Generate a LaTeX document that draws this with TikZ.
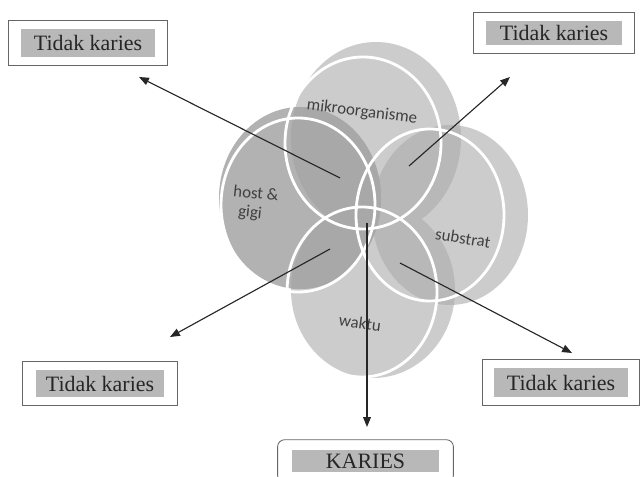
\documentclass[tikz,border=0pt]{standalone}
\usepackage{fontspec}
\setmainfont{Liberation Serif}
\newfontfamily\labelfont{Carlito}
\usetikzlibrary{arrows.meta, fit, positioning}
\definecolor{bodygray}{gray}{0.80}
\definecolor{hostgray}{gray}{0.70}
\definecolor{overgray}{gray}{0.72}
\definecolor{hostover}{gray}{0.66}
\definecolor{boxgray}{gray}{0.72}
\definecolor{framegray}{gray}{0.40}
\newcommand{\boxfont}{\fontsize{15.6}{18}\selectfont}
\newcommand{\bodytop}{(376,138) ellipse [x radius=85, y radius=96]}
\newcommand{\bodyleft}{(300,198) ellipse [x radius=81, y radius=91]}
\newcommand{\bodyright}{(450,215) ellipse [x radius=78, y radius=90]}
\newcommand{\bodybottom}{(373,290) ellipse [x radius=82, y radius=88]}

\begin{document}
\begin{tikzpicture}[x=0.025cm, y=-0.025cm,
	lbl/.style={fill=boxgray, inner sep=0pt, minimum height=0.7cm, text=black!85, font=\boxfont},
	boxframe/.style={draw=framegray, line width=0.6pt, inner xsep=0.3cm, inner ysep=0.2cm},
	ring/.style={draw=white, line width=2pt},
	arr/.style={-{Triangle[length=7pt,width=5.5pt]}, line width=0.8pt, black!85},
	venn/.style={font=\labelfont\fontsize{12}{13.5}\selectfont, text=black!75, align=left}]
\useasboundingbox (0,0) rectangle (642,477);
\clip (0,0) rectangle (642,477);

% venn bodies
\fill[bodygray] \bodytop;
\fill[bodygray] \bodyright;
\fill[bodygray] \bodybottom;
\fill[hostgray] \bodyleft;
\begin{scope} \clip \bodytop; \fill[overgray] \bodyright; \fill[overgray] \bodybottom; \end{scope}
\begin{scope} \clip \bodyright; \fill[overgray] \bodybottom; \end{scope}
\begin{scope} \clip \bodyleft; \fill[hostover] \bodytop; \fill[hostover] \bodybottom; \fill[hostover] \bodyright; \end{scope}

% white rims
\draw[ring] (363,143) ellipse [x radius=78, y radius=86];
\draw[ring] (298,205) ellipse [x radius=77, y radius=87];
\draw[ring] (430,215) ellipse [x radius=74, y radius=86];
\draw[ring] (362,292) ellipse [x radius=75, y radius=85];

\node[venn, rotate=-7] (mikro) at (362,112) {mikroorganisme};
\node[venn, rotate=-6] (host) at (256,193) {host \&};
\node[venn, rotate=-6] (gigi) at (250,213) {gigi};
\node[venn, rotate=-9] (subs) at (463,238) {substrat};
\node[venn, rotate=-8] (waktu) at (360,323) {waktu};

% outcome boxes
\node[lbl, minimum width=3.35cm] (tl) at (88,43) {Tidak karies};
\node[lbl, minimum width=3.4cm, minimum height=0.6cm] (tr) at (554,33) {Tidak karies};
\node[lbl, minimum width=3.18cm, minimum height=0.68cm] (bl) at (100,383.5) {Tidak karies};
\node[lbl, minimum width=3.35cm, minimum height=0.72cm] (br) at (561,382.5) {Tidak karies};
\node[lbl, minimum width=3.68cm, minimum height=0.55cm] (ka) at (365.5,461) {KARIES};
\node[boxframe, fit=(tl)] (tlframe) {};
\node[boxframe, inner xsep=0.31cm, fit=(tr)] (trframe) {};
\node[boxframe, inner xsep=0.34cm, fit=(bl)] (blframe) {};
\node[boxframe, inner xsep=0.28cm, fit=(br)] (brframe) {};
\node[boxframe, rounded corners=5pt, inner xsep=0.35cm, inner ysep=0.25cm, fit=(ka)] (kaframe) {};

% arrows
\coordinate (tlin) at (340,178);  \coordinate (tltip) at (139,77);
\coordinate (trin) at (409,166);  \coordinate (trtip) at (510,77);
\coordinate (blin) at (330,249);  \coordinate (bltip) at (170,337);
\coordinate (brin) at (400,263);  \coordinate (brtip) at (572,353);
\coordinate (kain) at (367,223);  \coordinate (katip) at (367,427);
\draw[arr] (tlin) -- (tltip);
\draw[arr] (trin) -- (trtip);
\draw[arr] (blin) -- (bltip);
\draw[arr] (brin) -- (brtip);
\draw[arr] (kain) -- (katip);
\end{tikzpicture}
\end{document}
